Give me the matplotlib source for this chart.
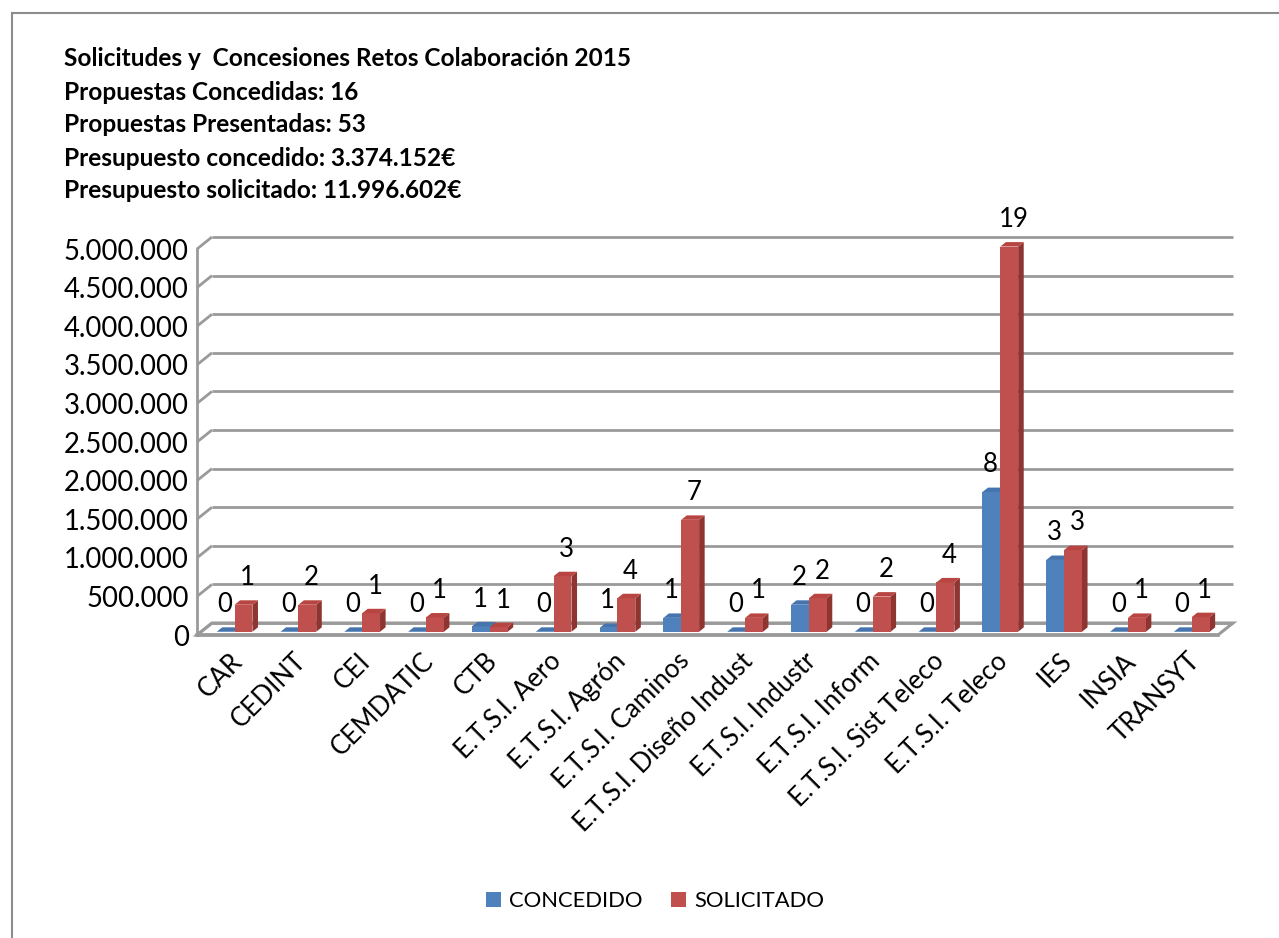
import matplotlib
matplotlib.use('Agg')
import matplotlib.pyplot as plt
from matplotlib.patches import Polygon, Patch

# ---------------- data ----------------
categories = ["CAR", "CEDINT", "CEI", "CEMDATIC", "CTB", "E.T.S.I. Aero",
              "E.T.S.I. Agrón", "E.T.S.I. Caminos", "E.T.S.I. Diseño Indust",
              "E.T.S.I. Industr", "E.T.S.I. Inform", "E.T.S.I. Sist Teleco",
              "E.T.S.I. Teleco", "IES", "INSIA", "TRANSYT"]
concedido = [0, 0, 0, 0, 70000, 0, 50000, 180000, 0, 350000, 0, 0,
             1810000, 930000, 0, 0]
solicitado = [350000, 350000, 240000, 185000, 60000, 720000, 435000, 1450000,
              180000, 435000, 456000, 640000, 4990000, 1058000, 180000, 190000]
concedido_n = [0, 0, 0, 0, 1, 0, 1, 1, 0, 2, 0, 0, 8, 3, 0, 0]
solicitado_n = [1, 2, 1, 1, 1, 3, 4, 7, 1, 2, 2, 4, 19, 3, 1, 1]
series_names = ["CONCEDIDO", "SOLICITADO"]
yticks = [0, 500000, 1000000, 1500000, 2000000, 2500000, 3000000,
          3500000, 4000000, 4500000, 5000000]
title_lines = ["Solicitudes y  Concesiones Retos Colaboración 2015",
               "Propuestas Concedidas: 16",
               "Propuestas Presentadas: 53",
               "Presupuesto concedido: 3.374.152€",
               "Presupuesto solicitado: 11.996.602€"]

# ---------------- style ----------------
FONT = "Lato"
plt.rcParams['font.family'] = [FONT, 'DejaVu Sans']
colors_front = ["#4F81BD", "#C0504D"]
colors_top = ["#4675AE", "#B84541"]
colors_side = ["#385E8C", "#8E3431"]
grid_color = "#9A9A9A"

W, H = 1279, 938
fig = plt.figure(figsize=(W / 100, H / 100), dpi=100)

# outer frame (left and top lines)
fig.add_artist(plt.Line2D([12 / W, 12 / W], [0, 1 - 13 / H], color="#8C8C8C",
                          lw=1.5, transform=fig.transFigure))
fig.add_artist(plt.Line2D([12 / W, 1], [1 - 13 / H, 1 - 13 / H], color="#8C8C8C",
                          lw=1.5, transform=fig.transFigure))

# title block
for k, line in enumerate(title_lines):
    fig.text(64 / W, 1 - (59 + 33 * k) / H, line, fontsize=17.6,
             fontweight='bold', ha='left', va='center')

# front plane of the plot
ax_l, ax_r, ax_b, ax_t = 197, 1218, 635, 249
ax = fig.add_axes([ax_l / W, 1 - ax_b / H, (ax_r - ax_l) / W, (ax_b - ax_t) / H])
n = len(categories)
ax.set_xlim(0, n)
ax.set_ylim(0, yticks[-1])
for s in ax.spines.values():
    s.set_visible(False)
ax.patch.set_visible(False)

ppx = (ax_r - ax_l) / n            # pixels per category
ppy = (ax_b - ax_t) / yticks[-1]   # pixels per value unit
DEPTH_PX = (15, 12)                # back wall offset in pixels (right, up)


def off(frac):
    return frac * DEPTH_PX[0] / ppx, frac * DEPTH_PX[1] / ppy


dX, dY = off(1.0)

# floor
ax.add_patch(Polygon([(0, 0), (n, 0), (n + dX, dY), (dX, dY)], closed=True,
                     facecolor="white", edgecolor=grid_color, lw=2.2,
                     clip_on=False, zorder=1))
# gridlines on back wall + left wall diagonals
for v in yticks:
    ax.plot([0, dX], [v, v + dY], color=grid_color, lw=2.0, clip_on=False,
            zorder=1, solid_capstyle='butt')
    ax.plot([dX, n + dX], [v + dY, v + dY], color=grid_color, lw=2.0,
            clip_on=False, zorder=1, solid_capstyle='butt')
ax.plot([0, 0], [0, yticks[-1]], color=grid_color, lw=2.0, clip_on=False,
        zorder=1)
ax.plot([0, n], [0, 0], color=grid_color, lw=2.6, clip_on=False, zorder=1)

# bars
bw = 0.28
start = 0.245
f0, f1 = 0.27, 0.64
ox0, oy0 = off(f0)
ox1, oy1 = off(f1)
series = [concedido, solicitado]
counts = [concedido_n, solicitado_n]
label_dx = [-0.5, 3.0]
for i in range(n):
    for k in range(2):
        v = series[k][i]
        x0 = i + start + k * bw
        xa, xb = x0 + ox0, x0 + bw + ox0
        xc, xd = x0 + ox1, x0 + bw + ox1
        z = 3 + i * 0.01 + k * 0.001
        if v > 0:
            ax.add_patch(Polygon([(xb, oy0), (xd, oy1), (xd, v + oy1), (xb, v + oy0)],
                                 closed=True, facecolor=colors_side[k], lw=0,
                                 clip_on=False, zorder=z))
            ax.add_patch(Polygon([(xa, oy0), (xb, oy0), (xb, v + oy0), (xa, v + oy0)],
                                 closed=True, facecolor=colors_front[k], lw=0,
                                 clip_on=False, zorder=z))
        ax.add_patch(Polygon([(xa, v + oy0), (xb, v + oy0), (xd, v + oy1), (xc, v + oy1)],
                             closed=True, facecolor=colors_top[k], lw=0,
                             clip_on=False, zorder=z))
        ax.annotate(str(counts[k][i]), xy=((xa + xb) / 2, v + oy0),
                    xytext=(label_dx[k], 19.5), textcoords='offset points',
                    ha='center', va='center', fontsize=18.5, zorder=10,
                    annotation_clip=False)

# axis labels
ax.set_yticks(yticks)
ax.set_yticklabels([f"{v:,}".replace(",", ".") for v in yticks], fontsize=19.8)
ax.set_xticks([i + 0.65 for i in range(n)])
ax.set_xticklabels(categories, rotation=45, ha='right', va='center',
                   rotation_mode='anchor', fontsize=18.6)
ax.tick_params(axis='x', length=0, pad=16)
ax.tick_params(axis='y', length=0, pad=6)

# legend
handles = [Patch(facecolor=colors_front[k], edgecolor='none', label=series_names[k])
           for k in range(2)]
fig.legend(handles=handles, loc='center', bbox_to_anchor=(655 / W, 1 - 901 / H),
           ncol=2, frameon=False, fontsize=15.8, handlelength=0.7,
           handleheight=0.7, handletextpad=0.35, columnspacing=1.3)

fig.savefig("out.png", dpi=100)
